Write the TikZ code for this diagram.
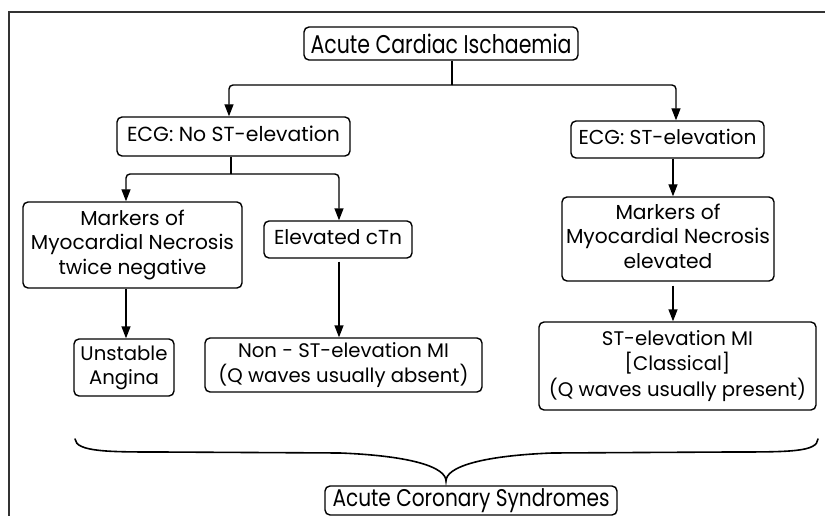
\documentclass[tikz,border=0pt]{standalone}
\usepackage{fontspec}
\usepackage{graphicx}
\setmainfont{Poppins}
\usetikzlibrary{arrows.meta}
\newcommand{\fitt}[2]{\resizebox{#1}{!}{\begin{tabular}{@{}c@{}}#2\end{tabular}}}
\begin{document}
\begin{tikzpicture}[x=1pt,y=-1pt,
  box/.style={draw=black,line width=1.4pt,rounded corners=5pt,align=center,inner sep=0pt,
    font=\fontsize{17}{20.4}\selectfont},
  conn/.style={line width=1.4pt,rounded corners=4pt},
  arr/.style={conn,-{Triangle[length=12pt,width=9pt]}},
  framestyle/.style={draw=black!80,line width=1.2pt}]
\useasboundingbox (0,0) rectangle (825,516);
\draw[framestyle] (9,516) -- (9,12) -- (825,12);

\node[box,minimum width=274pt,minimum height=33pt] (top) at (441,43.5)
  {\scalebox{1}[1.25]{\resizebox{261pt}{!}{Acute Cardiac Ischaemia}}};
\node[box,minimum width=233pt,minimum height=39pt] (ecgno) at (233.5,136.5)
  {\fitt{213pt}{ECG: No ST-elevation}};
\node[box,minimum width=193pt,minimum height=37pt] (ecgst) at (667.5,139.5)
  {\fitt{178pt}{ECG: ST-elevation}};
\node[box,minimum width=219pt,minimum height=86pt] (markL) at (132.5,245)
  {\fitt{203pt}{Markers of\\Myocardial Necrosis\\twice negative}};
\node[box,minimum width=148pt,minimum height=37pt] (ctn) at (338,239.5)
  {\fitt{128pt}{Elevated cTn}};
\node[box,minimum width=100pt,minimum height=57pt] (ua) at (124,367.5)
  {\fitt{87pt}{Unstable\\Angina}};
\node[box,minimum width=277pt,minimum height=54pt] (nonst) at (343.5,365)
  {\fitt{250pt}{Non - ST-elevation MI\\(Q waves usually absent)}};
\node[box,minimum width=212pt,minimum height=84pt] (markR) at (668,239)
  {\fitt{204pt}{Markers of\\Myocardial Necrosis\\elevated}};
\node[box,minimum width=277pt,minimum height=88pt] (stemi) at (677.5,366)
  {\fitt{257pt}{ST-elevation MI\\{[Classical]}\\(Q waves usually present)}};
\node[box,minimum width=292pt,minimum height=29pt] (acs) at (471,500.5)
  {\scalebox{1}[1.2]{\resizebox{277pt}{!}{Acute Coronary Syndromes}}};

\coordinate (j1) at (452,85);
\coordinate (j2) at (231,174);
\coordinate (xL1) at (229,0);
\coordinate (xR1) at (676,0);
\coordinate (xL2) at (126,0);
\coordinate (xR2) at (339,0);
\coordinate (xR3) at (673,0);

\draw[conn] (top.south -| j1) -- (j1);
\draw[arr] (j1) -| (ecgno.north -| xL1);
\draw[arr] (j1) -| (ecgst.north -| xR1);
\draw[conn] (ecgno.south -| j2) -- (j2);
\draw[arr] (j2) -| (markL.north -| xL2);
\draw[arr] (j2) -| (ctn.north -| xR2);
\draw[arr] (markL.south -| xL2) -- (ua.north -| xL2);
\draw[arr] ([yshift=-3pt]ctn.south -| xR2) -- (nonst.north -| xR2);
\draw[arr] (ecgst.south -| xR3) -- (markR.north -| xR3);
\draw[arr] ([yshift=-4pt]markR.south -| xR3) -- (stemi.north -| xR3);

\coordinate (bl) at (75,439);
\coordinate (bt) at (446,481);
\coordinate (br) at (818,439);
\draw[line width=1.6pt,line cap=round] (bl) .. controls (76,452) and (110,452) .. (160,452)
  -- (340,453) .. controls (415,456) and (446,468) .. (bt)
  .. controls (446,468) and (477,456) .. (552,453) -- (730,452)
  .. controls (790,452) and (817,452) .. (br);
\end{tikzpicture}
\end{document}
